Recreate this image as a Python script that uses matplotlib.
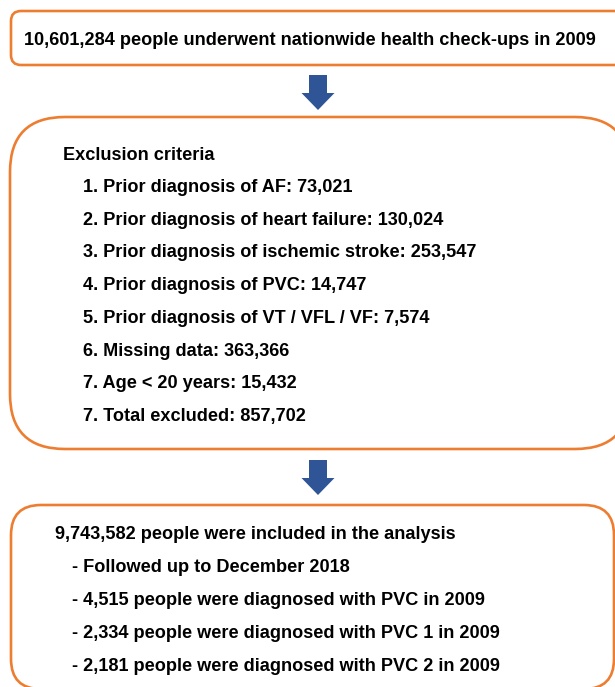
import matplotlib.pyplot as plt
from matplotlib.patches import FancyBboxPatch, FancyArrow

plt.rcParams['font.family'] = ['Liberation Sans', 'DejaVu Sans']

top_text = "10,601,284 people underwent nationwide health check-ups in 2009"
excl_title = "Exclusion criteria"
excl_items = [
    "1. Prior diagnosis of AF: 73,021",
    "2. Prior diagnosis of heart failure: 130,024",
    "3. Prior diagnosis of ischemic stroke: 253,547",
    "4. Prior diagnosis of PVC: 14,747",
    "5. Prior diagnosis of VT / VFL / VF: 7,574",
    "6. Missing data: 363,366",
    "7. Age < 20 years: 15,432",
    "7. Total excluded: 857,702",
]
incl_title = "9,743,582 people were included in the analysis"
incl_items = [
    "- Followed up to December 2018",
    "- 4,515 people were diagnosed with PVC in 2009",
    "- 2,334 people were diagnosed with PVC 1 in 2009",
    "- 2,181 people were diagnosed with PVC 2 in 2009",
]

orange = '#ED7D31'
blue = '#2F5597'

fig = plt.figure(figsize=(6.15, 6.87), dpi=100)
ax = fig.add_axes([0, 0, 1, 1])
ax.set_xlim(0, 615)
ax.set_ylim(687, 0)
ax.axis('off')

def box(x, y, w, h, r):
    p = FancyBboxPatch((x, y), w, h, boxstyle=f"round,pad=0,rounding_size={r}",
                       fc='white', ec=orange, lw=1.9)
    ax.add_patch(p)

def arrow(xc, y0, y1):
    ax.add_patch(FancyArrow(xc, y0, 0, y1 - y0, width=18, head_width=33,
                            head_length=17, length_includes_head=True,
                            color=blue, lw=0))

def line(x, y, s):
    # y is the visual centre of the line
    ax.text(x, y - 1.5, s, fontsize=13.1, fontweight='bold', va='center_baseline', ha='left')

# top box
box(11, 11, 630, 54, 10)
line(24, 40, top_text)
arrow(318, 75, 110)

# exclusion box
box(10, 117, 620, 332, 55)
line(63, 155, excl_title)
for i, s in enumerate(excl_items):
    line(83, 187 + i * 32.7, s)
arrow(318, 460, 495)

# inclusion box
box(11, 505, 603, 184, 30)
line(55, 534, incl_title)
for i, s in enumerate(incl_items):
    line(72, 567 + i * 33, s)

plt.savefig('out.png', dpi=100)
